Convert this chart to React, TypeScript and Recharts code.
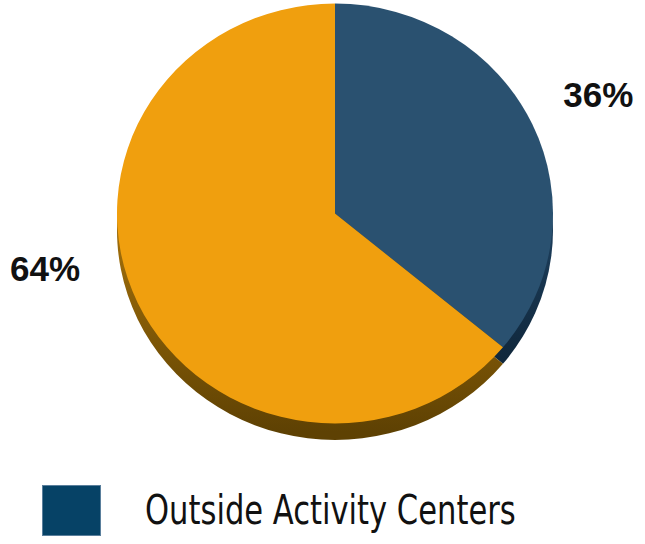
import React from 'react';
import { PieChart, Pie, Cell, Legend, Sector } from 'recharts';

const categories = ['Outside Activity Centers', 'Inside Activity Centers'];
const values = [36, 64];
const labels = ['36%', '64%'];
const topColors = ['#2A5170', '#F09F0E'];
const sideColors = ['url(#sideBlue)', 'url(#sideOrange)'];
const legendColors = ['#064266'];

const data = categories.map((name, i) => ({ name, value: values[i], label: labels[i] }));

const SQUASH = 0.963;

const squashedShape = (props: any) => {
  const { cy } = props;
  return (
    <g transform={`translate(0 ${cy}) scale(1 ${SQUASH}) translate(0 ${-cy})`}>
      <Sector {...props} />
    </g>
  );
};

const renderLabel = (props: any) => {
  const { cx, cy, midAngle, outerRadius, index } = props;
  let x: number;
  let y: number;
  if (index === 0) {
    const RAD = Math.PI / 180;
    const r = outerRadius + 73;
    x = cx + r * Math.cos(-midAngle * RAD);
    y = cy + r * Math.sin(-midAngle * RAD) * SQUASH;
  } else {
    x = cx - outerRadius - 72;
    y = cy + 55;
  }
  return (
    <text
      x={x}
      y={y}
      textAnchor="middle"
      dominantBaseline="central"
      fontFamily="'Liberation Sans', Arial, sans-serif"
      fontWeight="bold"
      fontSize={35}
      fill="#111"
    >
      {labels[index]}
    </text>
  );
};

const renderLegend = () => (
  <div style={{ display: 'flex', alignItems: 'center' }}>
    <div
      style={{
        width: 57,
        height: 49,
        background: legendColors[0],
        border: '1px solid #5A7F9C',
        flex: 'none',
      }}
    />
    <span
      style={{
        marginLeft: 44,
        display: 'inline-block',
        whiteSpace: 'nowrap',
        transform: 'scaleX(0.85)',
        transformOrigin: 'left center',
        fontFamily: "'Liberation Sans Narrow', 'DejaVu Sans Condensed', sans-serif",
        fontSize: 40,
        color: '#111',
        lineHeight: '49px',
      }}
    >
      {categories[0]}
    </span>
  </div>
);

export default function App() {
  return (
    <div style={{ position: 'absolute', left: 0, top: 0, background: '#fff' }}>
      <PieChart width={645} height={544} margin={{ top: 0, right: 0, bottom: 0, left: 0 }}>
        <defs>
          <linearGradient id="sideOrange" x1="0" y1="250" x2="0" y2="440" gradientUnits="userSpaceOnUse">
            <stop offset="0" stopColor="#9C6B0A" />
            <stop offset="1" stopColor="#5E4103" />
          </linearGradient>
          <linearGradient id="sideBlue" x1="0" y1="250" x2="0" y2="400" gradientUnits="userSpaceOnUse">
            <stop offset="0" stopColor="#1B3B57" />
            <stop offset="1" stopColor="#0C2133" />
          </linearGradient>
        </defs>
        <Pie
          data={data}
          dataKey="value"
          nameKey="name"
          cx={335}
          cy={230}
          outerRadius={218}
          startAngle={90}
          endAngle={-270}
          stroke="none"
          isAnimationActive={false}
          legendType="none"
          shape={squashedShape}
        >
          {data.map((d, i) => (
            <Cell key={d.name} fill={sideColors[i]} />
          ))}
        </Pie>
        <Pie
          data={data}
          dataKey="value"
          nameKey="name"
          cx={335}
          cy={213.5}
          outerRadius={218}
          startAngle={90}
          endAngle={-270}
          stroke="none"
          isAnimationActive={false}
          label={renderLabel}
          labelLine={false}
          shape={squashedShape}
        >
          {data.map((d, i) => (
            <Cell key={d.name} fill={topColors[i]} />
          ))}
        </Pie>
        <Legend
          content={renderLegend}
          wrapperStyle={{ left: 42, top: 485, width: 560 }}
        />
      </PieChart>
    </div>
  );
}
